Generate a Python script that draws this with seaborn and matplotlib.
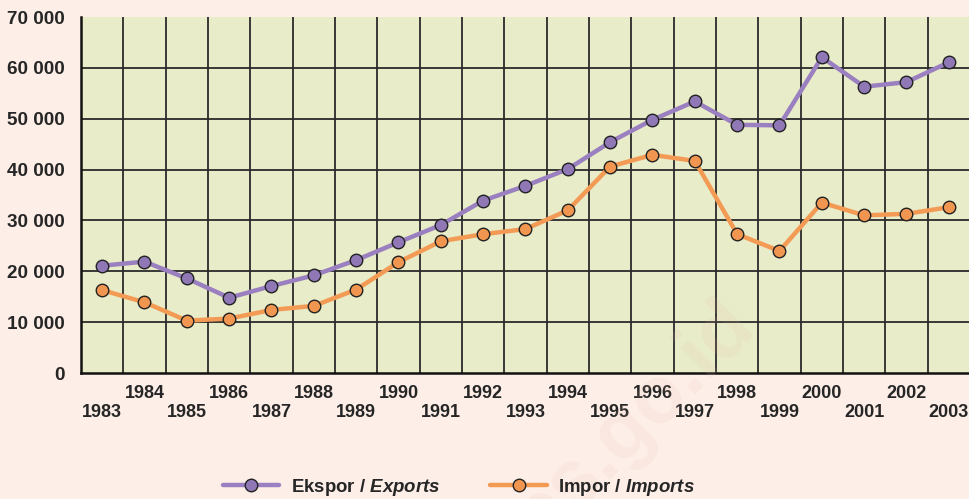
import matplotlib
matplotlib.use("Agg")
import matplotlib.pyplot as plt
import seaborn as sns
import pandas as pd
import numpy as np

years = [1983, 1984, 1985, 1986, 1987, 1988, 1989, 1990, 1991, 1992, 1993,
         1994, 1995, 1996, 1997, 1998, 1999, 2000, 2001, 2002, 2003]
exports = [21100, 21900, 18600, 14800, 17100, 19200, 22200, 25700, 29100, 33900, 36800,
           40100, 45400, 49800, 53400, 48800, 48700, 62100, 56300, 57200, 61100]
imports = [16300, 13900, 10300, 10700, 12400, 13200, 16400, 21800, 25900, 27300, 28300,
           32000, 40600, 42900, 41700, 27300, 24000, 33500, 31000, 31300, 32600]
yticks = [0, 10000, 20000, 30000, 40000, 50000, 60000, 70000]
ytick_labels = ["0", "10 000", "20 000", "30 000", "40 000", "50 000", "60 000", "70 000"]
label_exp = r"Ekspor / $\mathit{Exports}$"
label_imp = r"Impor / $\mathit{Imports}$"

sns.set_theme(style="white")
plt.rcParams['font.family'] = ['Liberation Sans', 'DejaVu Sans']
plt.rcParams['mathtext.fontset'] = 'custom'
plt.rcParams['mathtext.rm'] = 'Liberation Sans:bold'
plt.rcParams['mathtext.it'] = 'Liberation Sans:italic:bold'
plt.rcParams['mathtext.bf'] = 'Liberation Sans:bold'

BG = "#fdeee7"
PLOT = "#e8ecc8"
PURPLE_L = "#9a80c0"
PURPLE_M = "#9078b6"
ORANGE_L = "#f39a55"
ORANGE_M = "#f09650"

fig = plt.figure(figsize=(9.7, 4.99), dpi=100, facecolor=BG)
ax = fig.add_axes([0.0835, 0.2525, 0.9165, 0.7134])
ax.set_facecolor(PLOT)

df = pd.DataFrame({"idx": np.arange(len(years)), "exp": exports, "imp": imports})

sns.lineplot(data=df, x="idx", y="exp", ax=ax, color=PURPLE_L, lw=3.2, marker="o",
             markersize=9, markerfacecolor=PURPLE_M, markeredgecolor="#222222",
             markeredgewidth=1, label=label_exp, zorder=5)
sns.lineplot(data=df, x="idx", y="imp", ax=ax, color=ORANGE_L, lw=3.2, marker="o",
             markersize=9, markerfacecolor=ORANGE_M, markeredgecolor="#222222",
             markeredgewidth=1, label=label_imp, zorder=5)

ax.set_xlim(-0.5, len(years) - 0.5)
ax.set_ylim(0, 70000)

# grid
for xv in np.arange(0.5, len(years) - 0.5, 1):
    ax.axvline(xv, color="#2a2a2a", lw=1.3, zorder=1)
for yv in yticks[1:-1]:
    ax.axhline(yv, color="#2a2a2a", lw=1.3, zorder=1)

ax.set_yticks(yticks)
ax.set_yticklabels(ytick_labels, fontsize=13.6, fontweight="bold")
ax.tick_params(axis="y", length=0, pad=12)
ax.set_xticks([])
ax.set_xlabel("")
ax.set_ylabel("")

for i, y in enumerate(years):
    yy = -0.057 if i % 2 == 1 else -0.11
    ax.text(i, yy, str(y), transform=ax.get_xaxis_transform(), ha="center", va="center",
            fontsize=13, fontweight="bold", clip_on=False)

for s in ["top", "right"]:
    ax.spines[s].set_visible(False)
for s in ["left", "bottom"]:
    ax.spines[s].set_color("#111111")
    ax.spines[s].set_linewidth(1.8)

ax.get_legend().remove()
h, l = ax.get_legend_handles_labels()
leg = fig.legend(h, l, loc="center", bbox_to_anchor=(0.473, 0.024), ncol=2,
                 frameon=False, fontsize=13.4, handlelength=3.05, columnspacing=2.7,
                 handletextpad=0.6, borderpad=0.1)
for t in leg.get_texts():
    t.set_fontweight("bold")

# faint watermark
fig.text(0.635, 0.12, "bps.go.id", rotation=45, fontsize=58, fontweight="bold",
         color="#e9b7a8", alpha=0.12, ha="center", va="center", zorder=0)

fig.savefig("out.png", dpi=100, facecolor=BG)
